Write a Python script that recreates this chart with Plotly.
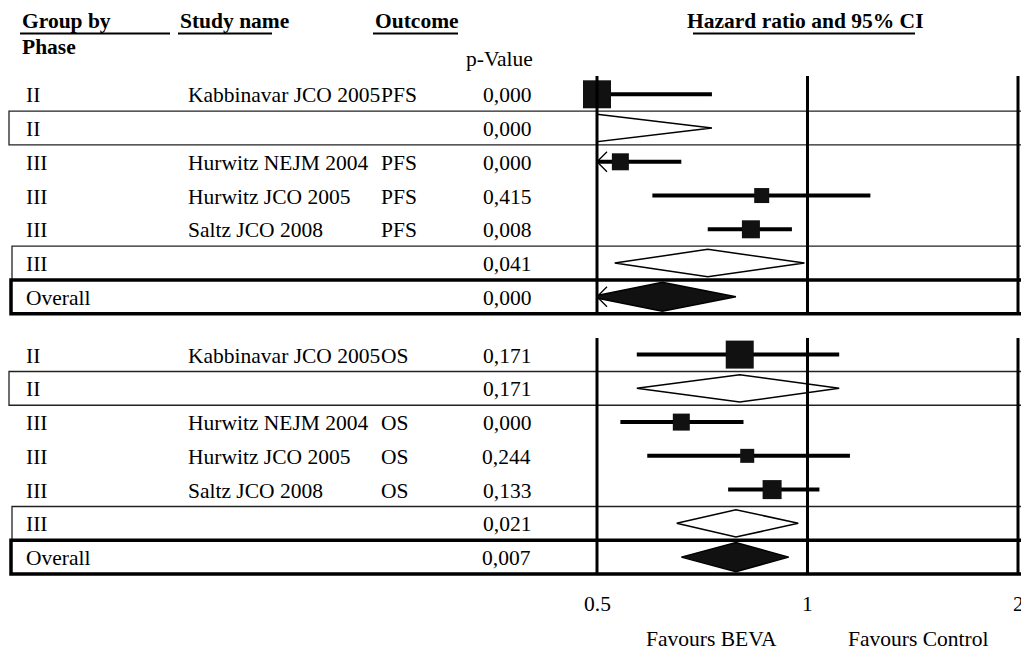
import math
import plotly.graph_objects as go

# ---------------- data ----------------
# Section 1: progression-free survival
pfs_phase = ["II", "II", "III", "III", "III", "III", "Overall"]
pfs_study = ["Kabbinavar JCO 2005", "", "Hurwitz NEJM 2004", "Hurwitz JCO 2005", "Saltz JCO 2008", "", ""]
pfs_outcome = ["PFS", "", "PFS", "PFS", "PFS", "", ""]
pfs_pvalue = ["0,000", "0,000", "0,000", "0,415", "0,008", "0,041", "0,000"]
pfs_hr = [0.50, 0.50, 0.54, 0.86, 0.83, 0.72, 0.62]
pfs_lo = [0.34, 0.34, 0.45, 0.60, 0.72, 0.53, 0.49]
pfs_hi = [0.73, 0.73, 0.66, 1.23, 0.95, 0.99, 0.79]

# Section 2: overall survival
os_phase = ["II", "II", "III", "III", "III", "III", "Overall"]
os_study = ["Kabbinavar JCO 2005", "", "Hurwitz NEJM 2004", "Hurwitz JCO 2005", "Saltz JCO 2008", "", ""]
os_outcome = ["OS", "", "OS", "OS", "OS", "", ""]
os_pvalue = ["0,171", "0,171", "0,000", "0,244", "0,133", "0,021", "0,007"]
os_hr = [0.80, 0.80, 0.66, 0.82, 0.89, 0.79, 0.79]
os_lo = [0.57, 0.57, 0.54, 0.59, 0.77, 0.65, 0.66]
os_hi = [1.11, 1.11, 0.81, 1.15, 1.04, 0.97, 0.94]

row_kind = ["study", "subgroup", "study", "study", "study", "subgroup", "overall"]

tick_vals = [0.5, 1, 2]
tick_text = ["0.5", "1", "2"]
headers = ["Group by", "Study name", "Outcome", "Hazard ratio and 95% CI"]

# ---------------- styling / layout ----------------
W, H = 1021, 654
FONT = "Liberation Serif"
FS = 21.5
X_MIN = 0.5
PX_0_5, PX_2 = 597, 1018
ppl = (PX_2 - PX_0_5) / (math.log10(2) - math.log10(0.5))  # px per log10 unit
x_range = [math.log10(X_MIN) - PX_0_5 / ppl, math.log10(X_MIN) + (W - PX_0_5) / ppl]

sq_sizes = {"pfs": [28, None, 17, 15, 18, None, None],
            "os": [28, None, 17, 14, 19, None, None]}
ROW_H = 33.75
sections = [
    dict(key="pfs", top=94.3, phase=pfs_phase, study=pfs_study, outcome=pfs_outcome,
         p=pfs_pvalue, hr=pfs_hr, lo=pfs_lo, hi=pfs_hi, vtop=76),
    dict(key="os", top=354.6, phase=os_phase, study=os_study, outcome=os_outcome,
         p=os_pvalue, hr=os_hr, lo=os_lo, hi=os_hi, vtop=338),
]

fig = go.Figure()
shapes = []
annotations = []


def px(x):
    return x / W


def ann(text, x, y, anchor="left", bold=False, xref="paper", size=FS):
    annotations.append(dict(
        text=f"<b>{text}</b>" if bold else text, x=x, y=y, xref=xref, yref="y",
        xanchor=anchor, yanchor="middle", showarrow=False,
        font=dict(family=FONT, size=size, color="black")))


def clip_poly(xs, ys, xmin):
    # clip polygon (in log space) at xmin, one-edge Sutherland-Hodgman
    lx = [math.log10(v) for v in xs]
    lm = math.log10(xmin)
    out_x, out_y = [], []
    n = len(lx)
    for i in range(n):
        a, b = i, (i + 1) % n
        ain, bin_ = lx[a] >= lm, lx[b] >= lm
        if ain:
            out_x.append(lx[a]); out_y.append(ys[a])
        if ain != bin_:
            t = (lm - lx[a]) / (lx[b] - lx[a])
            out_x.append(lm); out_y.append(ys[a] + t * (ys[b] - ys[a]))
    out_x.append(out_x[0]); out_y.append(out_y[0])
    return [10 ** v for v in out_x], out_y


arrow_f = 10 ** (10 / ppl)

for sec in sections:
    top = sec["top"]
    ys = [top + ROW_H * i for i in range(7)]
    half = ROW_H / 2
    # boxes around summary rows
    for i, kind in enumerate(row_kind):
        if kind == "subgroup":
            left = 9 if sec["phase"][i] == "II" else 12
            shapes.append(dict(type="rect", xref="paper", yref="y", x0=px(left), x1=px(W + 10),
                               y0=ys[i] - half, y1=ys[i] + half,
                               line=dict(color="#222", width=1.3), layer="below"))
    for i, kind in enumerate(row_kind):
        if kind == "overall":
            shapes.append(dict(type="rect", xref="paper", yref="y", x0=px(11), x1=px(W + 10),
                               y0=ys[i] - half, y1=ys[i] + half,
                               line=dict(color="black", width=3.5), layer="below"))
    # vertical reference lines
    for tv in tick_vals:
        shapes.append(dict(type="line", xref="x", yref="y", x0=tv, x1=tv,
                           y0=sec["vtop"], y1=ys[-1] + half,
                           line=dict(color="black", width=3)))
    # text columns
    for i in range(7):
        ann(sec["phase"][i], px(24), ys[i] + 1)
        if sec["study"][i]:
            ann(sec["study"][i], px(186), ys[i] + 1)
        if sec["outcome"][i]:
            ann(sec["outcome"][i], px(379), ys[i] + 1)
        ann(sec["p"][i], px(533), ys[i] + 1, anchor="right")
    # marks
    for i, kind in enumerate(row_kind):
        hr, lo, hi, y = sec["hr"][i], sec["lo"][i], sec["hi"][i], ys[i]
        if lo < X_MIN and kind != "subgroup":
            fig.add_trace(go.Scatter(x=[X_MIN * arrow_f, X_MIN, X_MIN * arrow_f],
                                     y=[y - 10, y, y + 10], mode="lines",
                                     line=dict(color="black", width=1.3), hoverinfo="skip",
                                     showlegend=False))
        if kind == "study":
            fig.add_trace(go.Scatter(x=[max(lo, X_MIN), hi], y=[y, y], mode="lines",
                                     line=dict(color="black", width=4), hoverinfo="skip",
                                     showlegend=False))
            fig.add_trace(go.Scatter(x=[max(hr, X_MIN)], y=[y], mode="markers",
                                     marker=dict(symbol="square", size=sq_sizes[sec["key"]][i],
                                                 color="#111", line=dict(width=0)),
                                     cliponaxis=False, hoverinfo="skip", showlegend=False))
        else:
            hh = 14.5 if kind == "overall" else 13.7
            dx = [lo, hr, hi, hr]
            dy = [y, y - hh, y, y + hh]
            cx, cy = clip_poly(dx, dy, X_MIN)
            fig.add_trace(go.Scatter(x=cx, y=cy, mode="lines", fill="toself",
                                     fillcolor="#111" if kind == "overall" else "white",
                                     line=dict(color="black", width=1.5), hoverinfo="skip",
                                     showlegend=False))

# headers
hdr_x = [20, 178, 373, 685]
hdr_ul = [(20, 170), (178, 272), (373, 458), (693, 915)]
for h, x0, (u0, u1) in zip(headers, hdr_x, hdr_ul):
    ann(h, px(x0), 21, bold=True)
    shapes.append(dict(type="line", xref="paper", yref="y", x0=px(u0), x1=px(u1), y0=33.5, y1=33.5,
                       line=dict(color="black", width=1.8)))
ann("Phase", px(20), 47, bold=True)
ann("p-Value", px(535), 59, anchor="right")

# axis tick labels placed through the log axis (annotation x in log10 units)
for tv, tt in zip(tick_vals, tick_text):
    ann(tt, math.log10(tv), 604, anchor="center", xref="x")
ann("Favours BEVA", px(711), 639, anchor="center")
ann("Favours Control", px(918), 639, anchor="center")

fig.update_layout(
    width=W, height=H, margin=dict(l=0, r=0, t=0, b=0),
    paper_bgcolor="white", plot_bgcolor="white",
    xaxis=dict(type="log", range=x_range, domain=[0, 1], visible=False, fixedrange=True),
    yaxis=dict(range=[H, 0], domain=[0, 1], visible=False, fixedrange=True),
    shapes=shapes, annotations=annotations, showlegend=False,
)

fig.write_html("out.html", config={"displayModeBar": False},
               post_script="document.body.style.margin='0';document.body.style.overflow='hidden';")
